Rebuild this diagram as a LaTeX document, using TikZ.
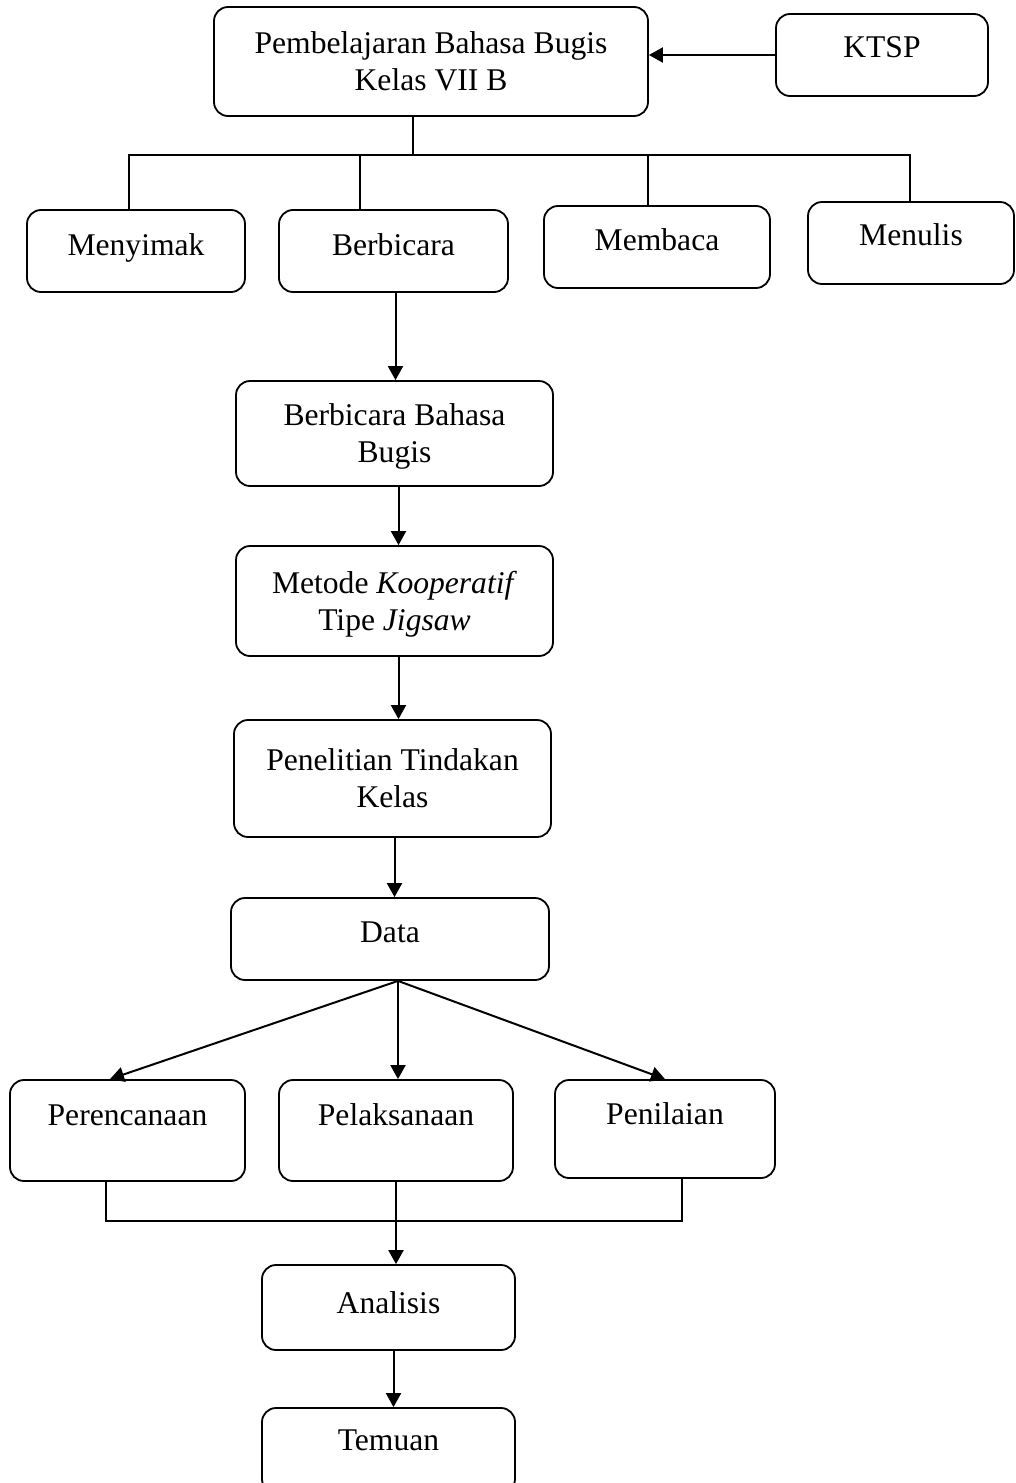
\documentclass[tikz,border=0pt]{standalone}
\usepackage{fontspec}
\setmainfont{Liberation Serif}
\usetikzlibrary{arrows.meta}
\tikzset{
  box/.style = {draw, line width=0.9pt, rounded corners=7pt,
                align=center, inner sep=4pt},
  oneline/.style = {text height=1em, text depth=#1},
  oneline/.default = 5.6pt,
  twoline/.style = {text depth=0pt},
  arr/.style = {line width=1pt, -{Triangle[length=7pt, width=7.5pt]}},
  bus/.style = {line width=0.75pt}
}

\begin{document}
\begin{tikzpicture}[x=0.5pt, y=-0.5pt, font=\fontsize{15.8}{18.5}\selectfont]
	\clip (0,0) rectangle (1016,1483);

	% Top
	\node[box, twoline, minimum width=217pt, minimum height=54.5pt] (pembelajaran) at (431,61.5) {Pembelajaran Bahasa Bugis\\Kelas VII B};
	\node[box, oneline=7.6pt, minimum width=106pt, minimum height=41pt] (ktsp) at (882,55) {KTSP};

	% Skills
	\node[box, oneline, minimum width=109pt, minimum height=41pt] (menyimak) at (136,251) {Menyimak};
	\node[box, oneline, minimum width=114.5pt, minimum height=41pt] (berbicara) at (393.5,251) {Berbicara};
	\node[box, oneline=6.6pt, minimum width=113pt, minimum height=41pt] (membaca) at (657,247) {Membaca};
	\node[box, oneline=7.6pt, minimum width=103pt, minimum height=41pt] (menulis) at (911,243) {Menulis};

	% Middle column
	\node[box, twoline, minimum width=158.5pt, minimum height=52.5pt] (bbb) at (394.5,433.5) {Berbicara Bahasa\\Bugis};
	\node[box, twoline, minimum width=158.5pt, minimum height=55pt] (metode) at (394.5,601) {Metode \textit{Kooperatif}\\Tipe \textit{Jigsaw}};
	\node[box, twoline, minimum width=158.5pt, minimum height=58.5pt] (ptk) at (392.5,778.5) {Penelitian Tindakan\\Kelas};
	\node[box, oneline=6.6pt, minimum width=159pt, minimum height=41pt] (data) at (390,939) {Data};

	% Stages
	\node[box, oneline=14.6pt, minimum width=117.5pt, minimum height=50.5pt] (perencanaan) at (127.5,1130.5) {Perencanaan};
	\node[box, oneline=14.6pt, minimum width=117pt, minimum height=50.5pt] (pelaksanaan) at (396,1130.5) {Pelaksanaan};
	\node[box, oneline=14.6pt, minimum width=110pt, minimum height=49pt] (penilaian) at (665,1129) {Penilaian};

	% Bottom
	\node[box, oneline=4.1pt, minimum width=126.5pt, minimum height=42.5pt] (analisis) at (388.5,1307.5) {Analisis};
	\node[box, oneline=10.1pt, minimum width=126.5pt, minimum height=42.5pt] (temuan) at (388.5,1450.5) {Temuan};

	% KTSP arrow
	\draw[arr] (ktsp.west) -- (ktsp.west -| pembelajaran.east);

	% Branch to skills
	\coordinate (hub) at (413,155);
	\draw[bus] (hub |- pembelajaran.south) -- (hub);
	\draw[bus] ([xshift=-3.5pt]menyimak.north) |- (hub) -| ([xshift=-0.5pt]menulis.north);
	\draw[bus] ([xshift=-16.75pt]berbicara.north) -- ([xshift=-16.75pt]berbicara.north |- hub);
	\draw[bus] ([xshift=-4.5pt]membaca.north) -- ([xshift=-4.5pt]membaca.north |- hub);

	% Main flow
	\draw[arr] ([xshift=1pt]berbicara.south) -- ([xshift=1pt]berbicara.south |- bbb.north);
	\draw[arr] ([xshift=2pt]bbb.south) -- ([xshift=2pt]bbb.south |- metode.north);
	\draw[arr] ([xshift=2pt]metode.south) -- ([xshift=2pt]metode.south |- ptk.north);
	\draw[arr] ([xshift=1pt]ptk.south) -- ([xshift=1pt]ptk.south |- data.north);

	% Data fan
	\coordinate (fan) at ([xshift=4pt]data.south);
	\draw[arr] (fan) -- ([xshift=-8.75pt]perencanaan.north);
	\draw[arr] (fan) -- (fan |- pelaksanaan.north);
	\draw[arr] (fan) -- (penilaian.north);

	% Merge to analysis
	\path (pelaksanaan.south) ++(0,39) coordinate (merge);
	\draw[bus] ([xshift=-10.75pt]perencanaan.south) |- (merge) -| ([xshift=8.5pt]penilaian.south);
	\draw[arr] (pelaksanaan.south) -- (pelaksanaan.south |- analisis.north);
	\draw[arr] ([xshift=2.5pt]analisis.south) -- ([xshift=2.5pt]analisis.south |- temuan.north);
	
\end{tikzpicture}
\end{document}
